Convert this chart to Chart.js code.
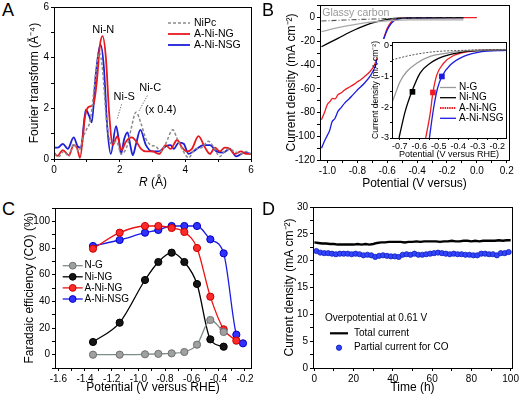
<!DOCTYPE html>
<html><head><meta charset="utf-8">
<script src="https://cdn.jsdelivr.net/npm/chart.js@4/dist/chart.umd.min.js"></script>
<style>
html,body{margin:0;padding:0;background:#fff;}
body{width:521px;height:398px;position:relative;overflow:hidden;font-family:"Liberation Sans",Arial,sans-serif;}
canvas{position:absolute;}
.lbl{position:absolute;font-family:"Liberation Sans",Arial,sans-serif;color:#000;line-height:1;white-space:nowrap;}
</style></head><body>
<canvas id="cA"></canvas>
<canvas id="cB"></canvas>
<canvas id="cBi"></canvas>
<canvas id="cC"></canvas>
<canvas id="cD"></canvas>
<div class="lbl" style="left:2px;top:1px;font-size:18px">A</div>
<div class="lbl" style="left:262px;top:1px;font-size:18px">B</div>
<div class="lbl" style="left:2px;top:200px;font-size:18px">C</div>
<div class="lbl" style="left:262px;top:200px;font-size:18px">D</div>
<div class="lbl" style="left:113px;top:175px;width:80px;text-align:center;font-size:12px;line-height:14px"><i>R</i> (Å)</div>
<script>
// ---------- Panel A: Fourier transform ----------
const aNiPcR = [0,0.15,0.3,0.45,0.6,0.75,0.9,1.0,1.1,1.2,1.3,1.38,1.48,1.6,1.75,1.9,2.05,2.25,2.35,2.5,2.65,2.8,2.95,3.1,3.25,3.4,3.62,3.75,3.9,4.1,4.3,4.5,4.7,4.85,5.05,5.2,5.35,5.5,5.7,5.85,6.0];
const aNiPcY = [0.2,0.1,0.3,0.1,0.6,0.3,0.9,1.2,1.5,2.5,3.7,4.2,3.5,1.5,0.6,0.7,0.2,0.6,1.2,1.85,1.4,0.8,0.55,0.5,0.3,0.6,1.15,0.8,0.4,0.05,0.4,0.45,0.7,0.5,0.1,0.3,0.4,0.3,0.2,0.3,0.2];
const aNgR = [0,0.1,0.27,0.45,0.6,0.7,0.79,0.95,1.05,1.2,1.3,1.4,1.48,1.58,1.68,1.79,1.93,2.05,2.2,2.37,2.5,2.65,2.8,3.0,3.2,3.4,3.55,3.75,3.9,4.05,4.2,4.4,4.6,4.75,4.9,5.05,5.2,5.35,5.5,5.7,5.85,6.0];
const aNgY = [0.25,0.12,0.35,0.15,0.55,0.45,0.05,1.7,2.05,2.15,3.0,4.5,4.85,4.0,1.8,0.55,0.9,0.35,0.7,0.85,0.7,0.4,0.3,0.3,0.2,0.55,0.4,0.75,0.45,0.3,0.4,0.9,0.45,0.2,0.45,0.3,0.45,0.4,0.2,0.3,0.2,0.2];
const aNsgR = [0,0.12,0.27,0.42,0.6,0.72,0.82,0.97,1.07,1.15,1.27,1.42,1.52,1.62,1.73,1.89,1.97,2.04,2.14,2.24,2.33,2.4,2.5,2.63,2.8,3.0,3.2,3.4,3.55,3.65,3.8,3.95,4.1,4.3,4.55,4.75,4.95,5.15,5.35,5.55,5.8,6.0];
const aNsgY = [0.45,0.45,0.6,0.4,0.85,0.5,0.45,1.95,1.7,1.45,3.3,4.5,3.6,1.3,0.2,1.3,0.8,0.2,0.8,1.05,0.5,0.15,0.6,1.15,0.55,0.3,0.3,0.5,0.55,0.4,0.65,0.6,0.2,0.35,0.55,0.55,0.3,0.25,0.4,0.1,0.25,0.2];
const aLegend = ['NiPc','A-Ni-NG','A-Ni-NSG'];

// ---------- Panel B: LSV ----------
const bNgX = [-1.04,-0.93,-0.82,-0.71,-0.6,-0.45,-0.3,-0.09];
const bNgY = [-11.8,-8.4,-5.8,-3.8,-2.6,-1.9,-1.9,-1.9];
const bGcX = [-1.04,-0.89,-0.71,-0.55,-0.4,-0.09];
const bGcY = [-2.8,-2.0,-1.2,-0.6,-0.3,-0.2];
const bNiNgX = [-1.04,-0.93,-0.82,-0.71,-0.6,-0.51,-0.4,-0.09];
const bNiNgY = [-24.5,-17.4,-10.4,-4.8,-1.4,-0.4,-0.1,0];
const bANgX = [-1.04,-1.02,-1.0,-0.985,-0.965,-0.95,-0.93,-0.91,-0.885,-0.86,-0.84,-0.82,-0.8,-0.78,-0.755,-0.72,-0.69,-0.665,-0.643,-0.62,-0.6,-0.572,-0.545,-0.5,-0.4,-0.2,0.0];
const bANgY = [-86,-80,-73,-71,-68,-68.5,-65,-63.5,-61,-59,-57.5,-56,-54,-52.5,-50,-46,-41,-33,-24.5,-16,-9,-3.4,-1.1,-0.3,0,0,0];
const bANsgX = [-1.04,-1.02,-1.0,-0.985,-0.97,-0.95,-0.93,-0.91,-0.885,-0.86,-0.84,-0.8,-0.755,-0.71,-0.677,-0.655,-0.633,-0.61,-0.588,-0.555,-0.51,-0.4,-0.2,-0.09];
const bANsgY = [-110,-104,-99,-95,-88,-85,-79,-76,-72,-69,-66.5,-61,-55.5,-48.5,-40,-30,-21.7,-13.3,-7.6,-2.5,-0.8,-0.2,0,0];
// inset
const iNgX = [-0.74,-0.725,-0.699,-0.664,-0.613,-0.544,-0.458,-0.355,-0.155];
const iNgY = [-1.85,-1.6,-1.17,-0.84,-0.57,-0.35,-0.24,-0.16,-0.13];
const iGcX = [-0.74,-0.65,-0.53,-0.37,-0.155];
const iGcY = [-0.46,-0.32,-0.2,-0.15,-0.12];
const iNiNgX = [-0.704,-0.673,-0.638,-0.596,-0.544,-0.475,-0.372,-0.155];
const iNiNgY = [-3.0,-2.15,-1.49,-0.89,-0.57,-0.35,-0.2,-0.13];
const iANgX = [-0.567,-0.544,-0.53,-0.51,-0.475,-0.424,-0.338,-0.155];
const iANgY = [-3.0,-2.2,-1.52,-0.95,-0.57,-0.32,-0.18,-0.13];
const iANsgX = [-0.548,-0.527,-0.507,-0.484,-0.441,-0.372,-0.286,-0.155];
const iANsgY = [-3.0,-2.05,-1.4,-1.0,-0.63,-0.35,-0.2,-0.15];
const iMarkX = [-0.635,-0.53,-0.484];
const iMarkY = [-1.5,-1.52,-1.0];
const iLegend = ['N-G','Ni-NG','A-Ni-NG','A-Ni-NSG'];

// ---------- Panel C: Faradaic efficiency ----------
const cPot = [-1.34,-1.14,-0.95,-0.85,-0.75,-0.655,-0.56,-0.46,-0.36,-0.265,-0.215];
const cNG = [0,0,0.3,0.6,1,2,7.5,26,17];
const cNiNG = [9.5,24,56,69.5,76.5,69.5,53,11.5,6];
const cANG = [79.5,91.5,96.5,96.5,95,92,80,43.5,19,10.5];
const cANSG = [81.5,86,91.5,93.5,96.5,96.5,96.5,86.5,76,15,8.5];
const cLegend = ['N-G','Ni-NG','A-Ni-NG','A-Ni-NSG'];

// ---------- Panel D: stability ----------
const dTimeTotal = [0,2,4,6,8,10,12,14,16,18,20,22,24,26,28,30,32,34,36,38,40,42,44,46,48,50,52,54,56,58,60,62,64,66,68,70,72,74,76,78,80,82,84,86,88,90,92,94,96,98,100];
const dTotal = [23.4,23.3,23.2,23.2,23.1,23.1,23.0,23.0,23.0,23.0,23.0,23.1,23.0,23.1,23.0,23.1,23.3,23.4,23.4,23.5,23.5,23.5,23.5,23.4,23.5,23.5,23.6,23.5,23.6,23.6,23.6,23.6,23.5,23.6,23.6,23.7,23.6,23.6,23.7,23.7,23.6,23.7,23.6,23.7,23.7,23.7,23.7,23.8,23.7,23.8,23.8];
const dTimeCO = [1,3,5,7,9,11,13,15,17,19,21,23,25,27,29,31,33,35,37,39,41,43,45,47,49,51,53,55,57,59,61,63,65,67,69,71,73,75,77,79,81,83,85,87,89,91,93,95,97,99];
const dCO = [21.8,21.5,21.4,21.4,21.3,21.2,21.3,21.3,21.3,21.2,21.3,21.2,21.0,21.1,21.0,20.7,20.9,21.0,20.9,20.8,20.8,20.7,21.1,21.2,21.1,21.3,21.1,21.1,21.2,21.3,21.4,21.5,21.4,21.3,21.2,21.3,21.2,21.2,21.1,21.1,21.0,21.0,21.3,21.3,21.2,21.2,21.0,21.4,21.4,21.6];
const dLegend = ['Total current','Partial current for CO'];

// ---------- helpers ----------
const FONT = '"Liberation Sans", Arial, Helvetica, sans-serif';
Chart.defaults.font.family = FONT;
Chart.defaults.color = '#000';
Chart.defaults.animation = false;

const xy = (xs, ys) => ys.map((y, i) => ({x: xs[i], y}));
const isMult = (v, m) => { const r = v / m; return Math.abs(r - Math.round(r)) < 1e-6; };
const fmt = (v, d) => { if (Math.abs(v) < 1e-9) v = 0; return v.toFixed(d); };

function place(id, r, yW, xH, padT, padR) {
  const c = document.getElementById(id);
  const w = r.R - r.L + yW + padR, h = r.B - r.T + padT + xH;
  c.width = w; c.height = h;
  c.style.left = (r.L - yW) + 'px'; c.style.top = (r.T - padT) + 'px';
  c.style.width = w + 'px'; c.style.height = h + 'px';
  return {c, ox: r.L - yW, oy: r.T - padT};
}

function axis(o) {
  return {
    type: 'linear', min: o.min, max: o.max, position: o.position,
    ticks: {stepSize: o.step, includeBounds: false, autoSkip: false, maxRotation: 0, minRotation: 0,
      padding: o.tickPad !== undefined ? o.tickPad : 2, font: {size: o.tickSize || 10}, color: '#000',
      callback: v => isMult(v, o.every) ? fmt(v, o.dec) : ''},
    grid: {drawOnChartArea: false, drawTicks: true, tickLength: o.tickLen || 3, color: '#000', lineWidth: 1},
    border: {display: true, color: '#000', width: 1},
    title: o.title ? {display: true, text: o.title, font: {size: o.titleSize || 12}, padding: 0, color: '#000'} : {display: false},
    afterFit: s => { if (o.position === 'left') s.width = o.size; else s.height = o.size; }
  };
}

const extras = {
  id: 'extras',
  beforeDraw(chart, args, o) {
    if (!o.bg) return;
    const a = chart.chartArea, ctx = chart.ctx;
    ctx.save(); ctx.fillStyle = '#fff';
    ctx.fillRect(a.left - o.bg[0], a.top - o.bg[1], a.right - a.left + o.bg[0] + o.bg[2], a.bottom - a.top + o.bg[1] + o.bg[3]);
    ctx.restore();
  },
  afterDraw(chart, args, o) {
    const a = chart.chartArea, ctx = chart.ctx;
    const sx = chart.scales.x, sy = chart.scales.y;
    ctx.save();
    ctx.strokeStyle = '#000'; ctx.lineWidth = 1;
    ctx.strokeRect(Math.round(a.left) + 0.5, Math.round(a.top) + 0.5, Math.round(a.right - a.left), Math.round(a.bottom - a.top));
    (o.lines || []).forEach(l => {
      ctx.beginPath(); ctx.setLineDash(l.dash || []); ctx.strokeStyle = l.color; ctx.lineWidth = l.lw || 1;
      ctx.moveTo(sx.getPixelForValue(l.x1), sy.getPixelForValue(l.y1));
      ctx.lineTo(sx.getPixelForValue(l.x2), sy.getPixelForValue(l.y2));
      ctx.stroke(); ctx.setLineDash([]);
    });
    (o.texts || []).forEach(t => {
      ctx.font = (t.style || '') + ' ' + (t.size || 11) + 'px ' + FONT;
      ctx.fillStyle = t.color || '#000'; ctx.textAlign = t.align || 'center'; ctx.textBaseline = 'middle';
      ctx.fillText(t.text, sx.getPixelForValue(t.x), sy.getPixelForValue(t.y));
    });
    (o.legend || []).forEach(e => {
      const y = e.y - o.oy, x0 = e.x0 - o.ox, x1 = e.x1 - o.ox;
      if (e.color && e.lw) {
        ctx.beginPath(); ctx.setLineDash(e.dash || []); ctx.strokeStyle = e.color; ctx.lineWidth = e.lw;
        ctx.moveTo(x0, y); ctx.lineTo(x1, y); ctx.stroke(); ctx.setLineDash([]);
      }
      if (e.marker) {
        ctx.beginPath(); ctx.arc((x0 + x1) / 2, y, e.marker.r, 0, Math.PI * 2);
        ctx.fillStyle = e.marker.fill; ctx.fill();
        ctx.strokeStyle = e.marker.border; ctx.lineWidth = 1; ctx.stroke();
      }
      if (e.label) {
        ctx.font = (e.size || 10) + 'px ' + FONT; ctx.fillStyle = '#000';
        ctx.textAlign = 'left'; ctx.textBaseline = 'middle';
        ctx.fillText(e.label, e.tx - o.ox, y);
      }
    });
    ctx.restore();
  }
};
Chart.register(extras);

function baseOptions(p, xAx, yAx, ex, padT, padR) {
  return {
    responsive: false, maintainAspectRatio: false, devicePixelRatio: 1, animation: false,
    layout: {padding: {top: padT, right: padR, left: 0, bottom: 0}},
    plugins: {legend: {display: false}, tooltip: {enabled: false}, extras: Object.assign({ox: p.ox, oy: p.oy}, ex)},
    scales: {x: xAx, y: yAx}
  };
}
const lineDs = (data, color, lw, dash) => ({data, showLine: true, borderColor: color, borderWidth: lw, borderDash: dash || [],
  pointRadius: 0, cubicInterpolationMode: 'monotone', fill: false});

// ---------- Chart A ----------
(function () {
  const r = {L: 54, T: 7, R: 251, B: 159}, yW = 27, xH = 20, pT = 8, pR = 12;
  const p = place('cA', r, yW, xH, pT, pR);
  const RED = '#e8191e', BLUE = '#1f1fd6', GRAY = '#8a8a8a';
  new Chart(p.c, {
    type: 'scatter',
    data: {datasets: [
      lineDs(xy(aNiPcR, aNiPcY), GRAY, 1.5, [3, 2]),
      lineDs(xy(aNgR, aNgY), RED, 1.8),
      lineDs(xy(aNsgR, aNsgY), BLUE, 1.8)
    ]},
    options: baseOptions(p,
      axis({min: 0, max: 6, step: 1, every: 2, dec: 0, position: 'bottom', size: xH}),
      axis({min: 0, max: 6, step: 1, every: 2, dec: 0, position: 'left', size: yW, title: 'Fourier transform (Å\u207B\u2074)'}),
      {
        texts: [
          {x: 1.5, y: 5.1, text: 'Ni-N', size: 11},
          {x: 2.14, y: 2.45, text: 'Ni-S', size: 11},
          {x: 2.93, y: 2.82, text: 'Ni-C', size: 11},
          {x: 3.25, y: 1.92, text: '(x 0.4)', size: 11}
        ],
        lines: [
          {x1: 1.93, y1: 1.6, x2: 2.07, y2: 2.21, color: '#666', dash: [1.2, 1.5]},
          {x1: 2.59, y1: 1.9, x2: 2.86, y2: 2.54, color: '#666', dash: [1.2, 1.5]}
        ],
        legend: [
          {y: 23, x0: 168, x1: 190, tx: 194, color: GRAY, lw: 1.5, dash: [3, 2], label: aLegend[0], size: 10.5},
          {y: 34, x0: 168, x1: 190, tx: 194, color: RED, lw: 1.8, label: aLegend[1], size: 10.5},
          {y: 45, x0: 168, x1: 190, tx: 194, color: BLUE, lw: 1.8, label: aLegend[2], size: 10.5}
        ]
      }, pT, pR)
  });
})();

// ---------- Chart B main ----------
(function () {
  const r = {L: 320, T: 5, R: 509, B: 160}, yW = 36, xH = 31, pT = 8, pR = 12;
  const p = place('cB', r, yW, xH, pT, pR);
  new Chart(p.c, {
    type: 'scatter',
    data: {datasets: [
      lineDs(xy(bGcX, bGcY), '#555', 1.1, [5, 2, 1, 2]),
      lineDs(xy(bNgX, bNgY), '#aaaaaa', 1.3),
      lineDs(xy(bNiNgX, bNiNgY), '#000', 1.3),
      lineDs(xy(bANsgX, bANsgY), '#1c1ce0', 1.3),
      lineDs(xy(bANgX, bANgY), '#ee1c24', 1.3)
    ]},
    options: baseOptions(p,
      axis({min: -1.05, max: 0.215, step: 0.1, every: 0.2, dec: 1, position: 'bottom', size: xH, title: 'Potential (V versus)'}),
      axis({min: -120, max: 10.7, step: 10, every: 20, dec: 0, position: 'left', size: yW, title: 'Current density (mA cm\u207B\u00B2)'}),
      {texts: [{x: -1.035, y: 3.7, text: 'Glassy carbon', size: 10.5, align: 'left', color: '#999'}]}, pT, pR)
  });
})();

// ---------- Chart B inset ----------
(function () {
  const r = {L: 392, T: 42, R: 506, B: 138}, yW = 21, xH = 22, pT = 8, pR = 12;
  const p = place('cBi', r, yW, xH, pT, pR);
  const RED = '#ee1c24', BLUE = '#1c1ce0';
  new Chart(p.c, {
    type: 'scatter',
    data: {datasets: [
      lineDs(xy(iGcX, iGcY), '#555', 1, [2, 1.5]),
      lineDs(xy(iNgX, iNgY), '#999', 1.3),
      lineDs(xy(iNiNgX, iNiNgY), '#000', 1.3),
      lineDs(xy(iANsgX, iANsgY), BLUE, 1.3),
      lineDs(xy(iANgX, iANgY), RED, 1.3),
      {data: xy(iMarkX, iMarkY), showLine: false, pointStyle: 'rect', pointRadius: 4,
       pointBackgroundColor: ['#000', RED, BLUE], pointBorderColor: ['#000', RED, BLUE], pointBorderWidth: 0}
    ]},
    options: baseOptions(p,
      axis({min: -0.74, max: -0.155, step: 0.05, every: 0.1, dec: 1, position: 'bottom', size: xH, tickSize: 9, tickLen: 2, tickPad: 1, title: 'Potential (V versus RHE)', titleSize: 9}),
      axis({min: -3, max: 0.12, step: 0.5, every: 1, dec: 0, position: 'left', size: yW, tickSize: 9, tickLen: 2, tickPad: 1, title: 'Current density (mA cm\u207B\u00B2)', titleSize: 8.5}),
      {
        bg: [15, 3, 2, 21],
        legend: [
          {y: 87.5, x0: 440, x1: 456, tx: 459, color: '#999', lw: 1.3, label: iLegend[0], size: 10},
          {y: 97.7, x0: 440, x1: 456, tx: 459, color: '#000', lw: 1.3, label: iLegend[1], size: 10},
          {y: 108, x0: 440, x1: 456, tx: 459, color: RED, lw: 1.8, dash: [1.5, 0.8], label: iLegend[2], size: 10},
          {y: 118.3, x0: 440, x1: 456, tx: 459, color: BLUE, lw: 1.3, label: iLegend[3], size: 10}
        ]
      }, pT, pR)
  });
})();

// ---------- Chart C ----------
(function () {
  const r = {L: 55, T: 208, R: 251, B: 368}, yW = 33, xH = 27, pT = 8, pR = 12;
  const p = place('cC', r, yW, xH, pT, pR);
  const S = [
    {ys: cNG, line: '#7f8c8c', fill: '#a0a0a0', border: '#6f6f6f'},
    {ys: cNiNG, line: '#000', fill: '#151515', border: '#000'},
    {ys: cANG, line: '#ee1111', fill: '#ff2a2a', border: '#c80000'},
    {ys: cANSG, line: '#1a1ae6', fill: '#3030ff', border: '#0000c0'}
  ];
  const ds = S.map(s => ({data: xy(cPot, s.ys), showLine: true, borderColor: s.line, borderWidth: 1.3,
    cubicInterpolationMode: 'monotone', pointRadius: 3.6, pointBackgroundColor: s.fill, pointBorderColor: s.border, pointBorderWidth: 1}));
  new Chart(p.c, {
    type: 'scatter',
    data: {datasets: ds},
    options: baseOptions(p,
      axis({min: -1.625, max: -0.155, step: 0.1, every: 0.2, dec: 1, position: 'bottom', size: xH, title: 'Potential (V versus RHE)'}),
      axis({min: -10, max: 110, step: 10, every: 20, dec: 0, position: 'left', size: yW, title: 'Faradaic efficiency (CO) (%)'}),
      {legend: S.map((s, i) => ({y: 265.7 + i * 11.1, x0: 62.7, x1: 82.7, tx: 84.5, color: s.line, lw: 1.3,
        marker: {r: 3.4, fill: s.fill, border: s.border}, label: cLegend[i], size: 10}))}, pT, pR)
  });
})();

// ---------- Chart D ----------
(function () {
  const r = {L: 313, T: 207, R: 512, B: 368}, yW = 31, xH = 27, pT = 8, pR = 12;
  const p = place('cD', r, yW, xH, pT, pR);
  new Chart(p.c, {
    type: 'scatter',
    data: {datasets: [
      {data: xy(dTimeTotal, dTotal), showLine: true, borderColor: '#000', borderWidth: 2.4, pointRadius: 0, tension: 0},
      {data: xy(dTimeCO, dCO), showLine: false, pointRadius: 2.6, pointBackgroundColor: '#3344ff', pointBorderColor: '#1122bb', pointBorderWidth: 0.8}
    ]},
    options: baseOptions(p,
      axis({min: -0.7, max: 100.7, step: 10, every: 20, dec: 0, position: 'bottom', size: xH, title: 'Time (h)'}),
      axis({min: 0, max: 30, step: 2.5, every: 5, dec: 0, position: 'left', size: yW, title: 'Current density (mA cm\u207B\u00B2)'}),
      {
        legend: [
          {y: 318.3, x0: 325, x1: 325, tx: 325, label: 'Overpotential at 0.61 V', size: 10},
          {y: 333.3, x0: 330, x1: 348, tx: 354, color: '#000', lw: 2.2, label: dLegend[0], size: 10},
          {y: 347.7, x0: 330, x1: 348, tx: 354, marker: {r: 2.6, fill: '#3344ff', border: '#1122bb'}, label: dLegend[1], size: 10}
        ]
      }, pT, pR)
  });
})();
</script>
</body></html>
